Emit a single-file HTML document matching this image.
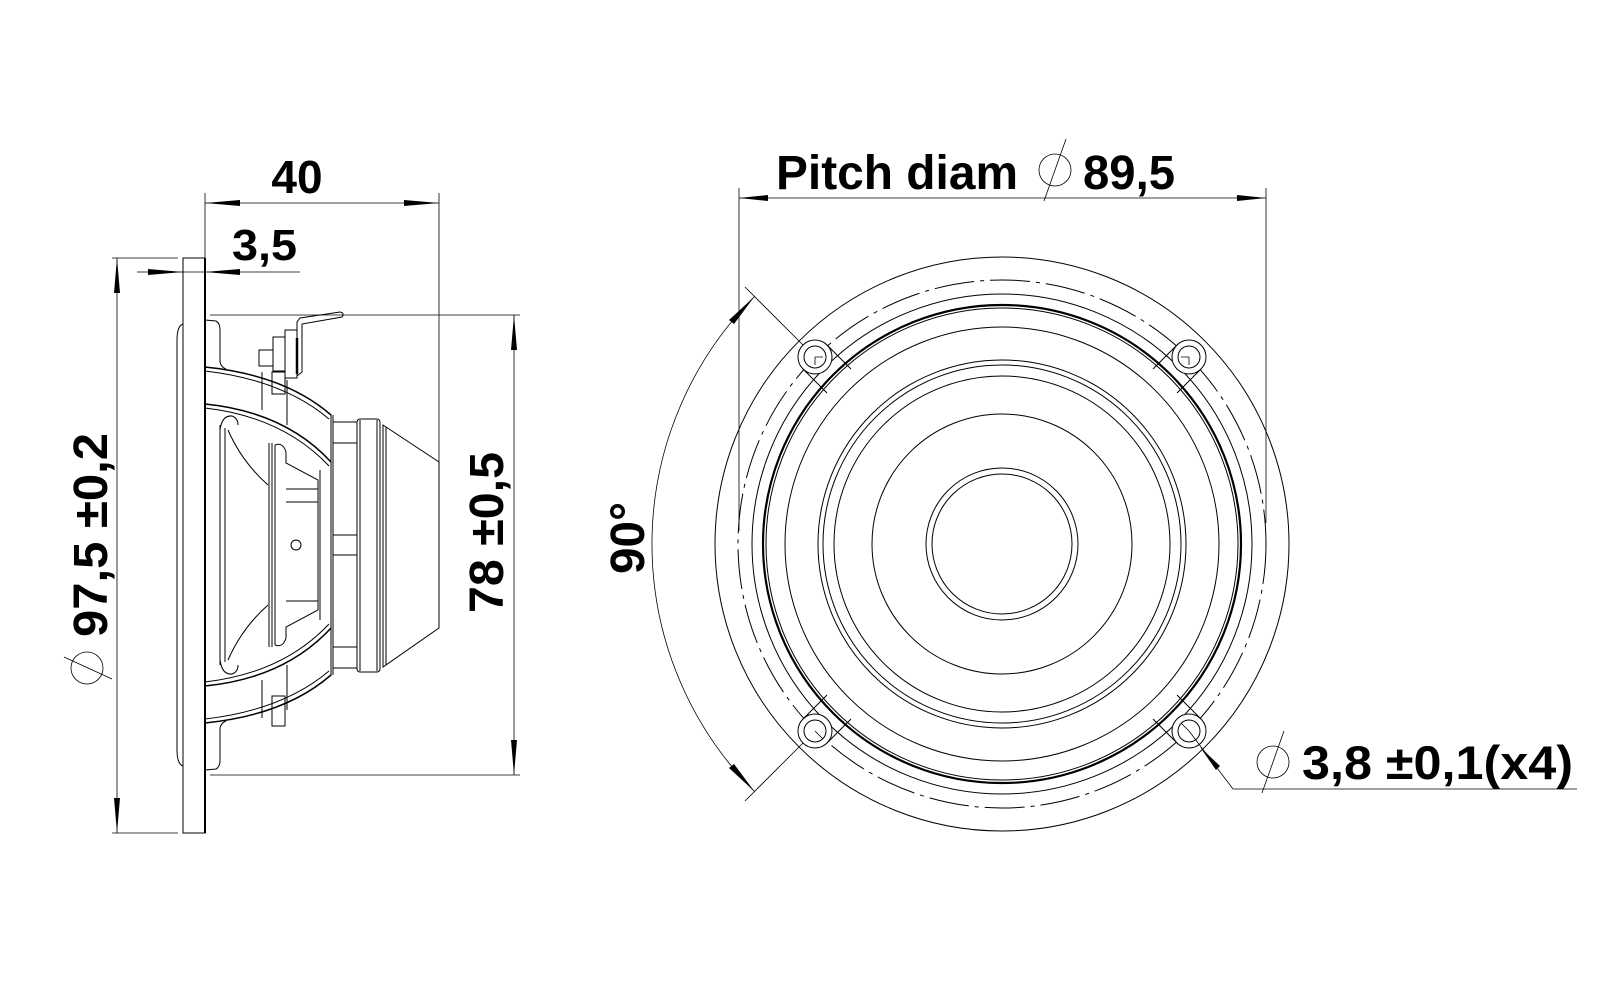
<!DOCTYPE html>
<html><head><meta charset="utf-8"><style>
html,body{margin:0;padding:0;background:#fff;}
svg{display:block;}
text{font-family:"Liberation Sans",sans-serif;font-weight:bold;fill:#000;}
</style></head><body>
<svg width="1600" height="1000" viewBox="0 0 1600 1000" xmlns="http://www.w3.org/2000/svg">
<g fill="none" stroke="#000" stroke-width="1">
<!-- ===== SIDE VIEW ===== -->
<rect x="183" y="258" width="22" height="575"/>
<line x1="205" y1="258" x2="205" y2="833" stroke-width="2"/>
<path d="M183,324 Q177,326 177,340 L177,750 Q177,764 183,766"/>
<path d="M205,320 L216,321 Q220,323 220,330 L220,362 Q221,367 226,369"/>
<path d="M205,770 L216,769 Q220,767 220,760 L220,728 Q221,723 226,721"/>
<path d="M205,367 Q285,375 331,415" stroke-width="1.5"/>
<path d="M205,371 Q283,380 329,419"/>
<path d="M205,404 Q285,412 331,462" stroke-width="1.5"/>
<path d="M205,408 Q283,417 329,466"/>
<path d="M205,723 Q285,715 331,675" stroke-width="1.5"/>
<path d="M205,719 Q283,710 329,671"/>
<path d="M205,686 Q285,678 331,628" stroke-width="1.5"/>
<path d="M205,682 Q283,673 329,624"/>
<line x1="262" y1="372" x2="262" y2="410"/><line x1="262" y1="680" x2="262" y2="718"/>
<line x1="287" y1="380" x2="287" y2="425"/><line x1="287" y1="665" x2="287" y2="710"/>
<line x1="331" y1="414" x2="331" y2="676"/>
<line x1="333" y1="415" x2="333" y2="675"/>
<rect x="333" y="422" width="24" height="246"/>
<line x1="333" y1="443" x2="357" y2="443"/>
<line x1="333" y1="535" x2="357" y2="535"/>
<line x1="333" y1="555" x2="357" y2="555"/>
<line x1="333" y1="647" x2="357" y2="647"/>
<line x1="220" y1="425" x2="220" y2="665"/>
<line x1="225" y1="428" x2="225" y2="662"/>
<path d="M220,430 Q222,415 232,416 Q238,418 238,425"/>
<path d="M220,660 Q222,675 232,674 Q238,672 238,665"/>
<path d="M228,430 Q242,462 268,485"/>
<path d="M228,660 Q242,628 268,605"/>
<line x1="269" y1="443" x2="269" y2="647"/>
<line x1="272" y1="443" x2="272" y2="647"/>
<line x1="275" y1="445" x2="275" y2="645"/>
<path d="M275,445 Q283,442 286,452 L286,463 L318,480 L318,610 L286,627 L286,638 Q283,648 275,645"/>
<line x1="286" y1="489" x2="318" y2="489"/>
<line x1="286" y1="502" x2="318" y2="502"/>
<line x1="286" y1="601" x2="318" y2="601"/>
<line x1="320" y1="470" x2="320" y2="620"/>
<circle cx="296" cy="545" r="5"/>
<path d="M297,322 L300,318 L340,312 Q345,313 342,317 L302,324 L302,372 L297,376 Z"/>
<line x1="297" y1="338" x2="297" y2="374" stroke-width="2.5"/>
<rect x="285" y="330" width="12" height="48"/>
<rect x="273" y="337" width="12" height="34"/>
<rect x="259" y="350" width="14" height="16"/>
<rect x="272" y="372" width="13" height="22"/>
<rect x="272" y="696" width="13" height="30"/>
<rect x="357" y="419" width="23" height="253" rx="3"/>
<line x1="360" y1="420" x2="360" y2="671"/>
<line x1="377" y1="420" x2="377" y2="671"/>
<path d="M383,425 L439,462 L439,628 L383,667 Z"/>
<line x1="386" y1="427" x2="386" y2="665"/>
<line x1="205" y1="193" x2="205" y2="258" stroke-width="0.8"/>
<line x1="439" y1="193" x2="439" y2="462" stroke-width="0.8"/>
<line x1="205" y1="203" x2="439" y2="203" stroke-width="0.8"/>
<line x1="137" y1="272" x2="300" y2="272" stroke-width="0.8"/>
<line x1="112" y1="258" x2="178" y2="258" stroke-width="0.8"/>
<line x1="112" y1="833" x2="178" y2="833" stroke-width="0.8"/>
<line x1="117" y1="258" x2="117" y2="833" stroke-width="0.8"/>
<line x1="210" y1="315" x2="520" y2="315" stroke-width="0.8"/>
<line x1="210" y1="775" x2="520" y2="775" stroke-width="0.8"/>
<line x1="514" y1="315" x2="514" y2="775" stroke-width="0.8"/>

<!-- ===== FRONT VIEW ===== -->
<circle cx="1002" cy="544" r="287"/>
<circle cx="1002" cy="544" r="264" stroke-dasharray="40,6,4,6"/>
<circle cx="1002" cy="544" r="250"/>
<circle cx="1002" cy="544" r="239" stroke-width="2.2"/>
<circle cx="1002" cy="544" r="236"/>
<circle cx="1002" cy="544" r="217"/>
<circle cx="1002" cy="544" r="184"/>
<circle cx="1002" cy="544" r="179"/>
<circle cx="1002" cy="544" r="168"/>
<circle cx="1002" cy="544" r="130"/>
<circle cx="1002" cy="544" r="76"/>
<circle cx="1002" cy="544" r="70"/>
<g fill="#fff">
<circle cx="815" cy="357" r="17"/><circle cx="1189" cy="357" r="17"/>
<circle cx="815" cy="731" r="17"/><circle cx="1189" cy="731" r="17"/>
</g>
<circle cx="815" cy="357" r="11"/><circle cx="1189" cy="357" r="11"/>
<circle cx="815" cy="731" r="11"/><circle cx="1189" cy="731" r="11"/>
<path d="M815,357 l8,0 M815,357 l0,8 M1189,357 l-8,0 M1189,357 l0,8 M815,731 l8,8 M1189,731 l-8,-8" stroke-width="0.8"/>
<path d="M827,345 L851,369 M803,369 L827,393"/>
<path d="M1177,345 L1153,369 M1201,369 L1177,393"/>
<path d="M803,719 L827,695 M827,743 L851,719"/>
<path d="M1201,719 L1177,695 M1177,743 L1153,719"/>
<line x1="739" y1="188" x2="739" y2="531" stroke-width="0.8"/>
<line x1="1266" y1="188" x2="1266" y2="523" stroke-width="0.8"/>
<line x1="739" y1="198" x2="1266" y2="198" stroke-width="0.8"/>
<path d="M754.5,296.5 A350,350 0 0 0 754.5,791.5" stroke-width="0.8"/>
<line x1="803" y1="345" x2="745" y2="287" stroke-width="0.8"/>
<line x1="803" y1="743" x2="745" y2="801" stroke-width="0.8"/>
<path d="M1189,731 L1233,789 L1577,789" stroke-width="0.8"/>
<circle cx="1055" cy="170" r="16" stroke-width="0.8"/><line x1="1066" y1="139" x2="1044" y2="201" stroke-width="0.8"/>
<circle cx="1273" cy="762" r="16" stroke-width="0.8"/><line x1="1284" y1="731" x2="1262" y2="793" stroke-width="0.8"/>
<circle cx="87" cy="668" r="16" stroke-width="0.8"/><line x1="64" y1="657" x2="112" y2="679" stroke-width="0.8"/>
</g>
<g fill="#000">
<polygon points="205,203 240,200 240,206"/>
<polygon points="439,203 404,200 404,206"/>
<polygon points="183,272 148,269 148,275"/>
<polygon points="205,272 240,269 240,275"/>
<polygon points="117,258 114,293 120,293"/>
<polygon points="117,833 114,798 120,798"/>
<polygon points="514,315 511,350 517,350"/>
<polygon points="514,775 511,740 517,740"/>
<polygon points="739,198 768,195 768,201"/>
<polygon points="1266,198 1237,195 1237,201"/>
<polygon points="754.5,296.5 729,320 734,324"/>
<polygon points="754.5,791.5 729,768 734,764"/>
<polygon points="1200,747 1216,770 1220,766"/>
</g>
<text x="776" y="189" font-size="48" textLength="242" lengthAdjust="spacingAndGlyphs">Pitch diam</text>
<text x="1083" y="189" font-size="48" textLength="92" lengthAdjust="spacingAndGlyphs">89,5</text>
<text x="297" y="193" font-size="46" text-anchor="middle">40</text>
<text x="232" y="260" font-size="44" textLength="65" lengthAdjust="spacingAndGlyphs">3,5</text>
<text transform="translate(107,637) rotate(-90)" font-size="48" textLength="204" lengthAdjust="spacingAndGlyphs">97,5 ±0,2</text>
<text transform="translate(503,613) rotate(-90)" font-size="48" textLength="161" lengthAdjust="spacingAndGlyphs">78 ±0,5</text>
<text transform="translate(644,574) rotate(-90)" font-size="48" textLength="72" lengthAdjust="spacingAndGlyphs">90°</text>
<text x="1302" y="779" font-size="47" textLength="271" lengthAdjust="spacingAndGlyphs">3,8 ±0,1(x4)</text>
</svg>
</body></html>
